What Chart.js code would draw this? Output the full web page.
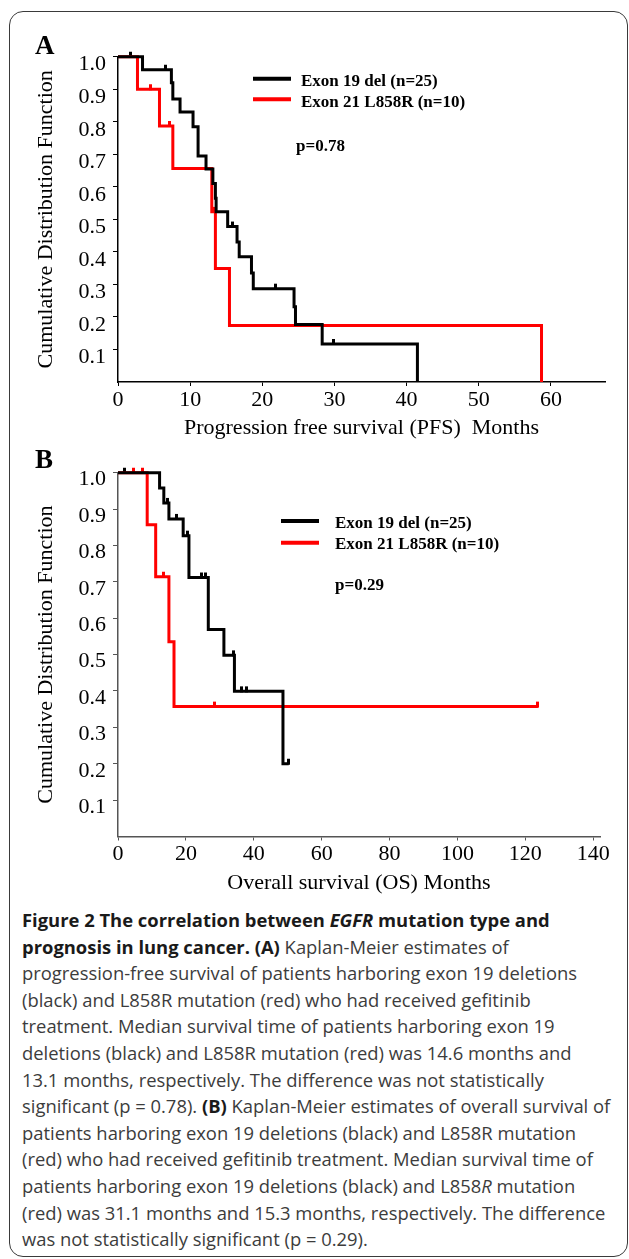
<!DOCTYPE html>
<html>
<head>
<meta charset="utf-8">
<script src="https://cdn.jsdelivr.net/npm/chart.js@4.4.1/dist/chart.umd.min.js"></script>
<style>
html,body{margin:0;padding:0;background:#fff;}
body{width:629px;height:1259px;position:relative;overflow:hidden;}
#frame{position:absolute;left:9px;top:11px;width:619px;height:1246px;border:1.5px solid #3a3a3a;border-radius:14px;box-sizing:border-box;z-index:0;}
canvas{position:absolute;left:0;z-index:1;}
#cA{top:0;}
#cB{top:440px;}
#caption{position:absolute;left:22px;top:907px;font-family:'Open Sans',sans-serif;font-size:18.4px;color:#3c3c3c;z-index:2;}
#caption div{white-space:nowrap;height:26.6px;line-height:26.6px;}
#caption b{color:#1a1a1a;font-weight:700;}
</style>
</head>
<body>
<div id="frame"></div>
<canvas id="cA" width="629" height="445"></canvas>
<canvas id="cB" width="629" height="460"></canvas>
<div id="caption">
<div><b>Figure 2 The correlation between <i>EGFR</i> mutation type and</b></div>
<div><b>prognosis in lung cancer. (A)</b> Kaplan-Meier estimates of</div>
<div>progression-free survival of patients harboring exon 19 deletions</div>
<div>(black) and L858R mutation (red) who had received gefitinib</div>
<div>treatment. Median survival time of patients harboring exon 19</div>
<div>deletions (black) and L858R mutation (red) was 14.6 months and</div>
<div>13.1 months, respectively. The difference was not statistically</div>
<div>significant (p = 0.78). <b>(B)</b> Kaplan-Meier estimates of overall survival of</div>
<div>patients harboring exon 19 deletions (black) and L858R mutation</div>
<div>(red) who had received gefitinib treatment. Median survival time of</div>
<div>patients harboring exon 19 deletions (black) and L858<i>R</i> mutation</div>
<div>(red) was 31.1 months and 15.3 months, respectively. The difference</div>
<div>was not statistically significant (p = 0.29).</div>
</div>
<script>
// ---------- data ----------
const seriesNames = ['Exon 19 del (n=25)', 'Exon 21 L858R (n=10)'];
const survTicksY = [0.1, 0.2, 0.3, 0.4, 0.5, 0.6, 0.7, 0.8, 0.9, 1.0];
const pfsTicksX = [0, 10, 20, 30, 40, 50, 60];
const osTicksX = [0, 20, 40, 60, 80, 100, 120, 140];
const pfsPValue = 'p=0.78';
const osPValue = 'p=0.29';

// Panel A: progression free survival
const pfsDelTime = [0, 3.4, 7.4, 7.6, 8.6, 10.4, 11.1, 12.2, 13.15, 13.5, 13.6, 15.2, 16.5, 16.8, 18.5, 18.75, 24.4, 24.6, 28.3, 41.5];
const pfsDelSurv = [1, 0.96, 0.92, 0.87, 0.83, 0.785, 0.695, 0.655, 0.61, 0.565, 0.523, 0.478, 0.43, 0.385, 0.335, 0.287, 0.231, 0.177, 0.117, 0];
const pfsDelCensTime = [1.8, 6.6, 15.9, 21.85, 29.8];
const pfsDelCensSurv = [1, 0.96, 0.478, 0.287, 0.117];
const pfsL858Time = [0, 2.7, 5.75, 7.6, 13.0, 13.5, 15.45, 58.7];
const pfsL858Surv = [1, 0.9, 0.787, 0.656, 0.523, 0.349, 0.174, 0];
const pfsL858CensTime = [4.5, 7.1, 13.4];
const pfsL858CensSurv = [0.9, 0.787, 0.523];

// Panel B: overall survival
const osDelTime = [0, 12.25, 13.5, 15.0, 19.2, 20.9, 26.6, 31.2, 34.3, 48.6, 50.3];
const osDelSurv = [1, 0.958, 0.917, 0.873, 0.827, 0.712, 0.569, 0.498, 0.399, 0.2, 0.2];
const osDelCensTime = [2.0, 14.6, 17.1, 20.4, 24.5, 25.8, 33.9, 36.3, 38.0, 50.3];
const osDelCensSurv = [1, 0.917, 0.873, 0.827, 0.712, 0.712, 0.498, 0.399, 0.399, 0.2];
const osL858Time = [0, 8.6, 11.1, 15.0, 16.5, 123.7];
const osL858Surv = [1, 0.857, 0.714, 0.535, 0.357, 0.357];
const osL858CensTime = [4.5, 7.2, 13.5, 28.4, 123.7];
const osL858CensSurv = [1, 1, 0.714, 0.357, 0.357];

// ---------- helpers ----------
const toPts = (t, s) => t.map((v, i) => ({x: v, y: s[i]}));
function censorMark(color) {
  const c = document.createElement('canvas');
  c.width = 3; c.height = 12;
  const g = c.getContext('2d');
  g.fillStyle = color;
  g.fillRect(0, 1, 3, 6);
  return c;
}
const SERIF = "'Liberation Serif', 'Times New Roman', serif";

const kmLegend = {
  id: 'kmLegend',
  afterDraw(chart, args, o) {
    const ctx = chart.ctx;
    ctx.save();
    ctx.textBaseline = 'middle';
    ctx.textAlign = 'left';
    ctx.font = 'bold 17px ' + SERIF;
    o.names.forEach((name, i) => {
      const ds = chart.data.datasets[i];
      const y = o.y + i * o.gap;
      ctx.strokeStyle = ds.borderColor;
      ctx.lineWidth = 4;
      ctx.beginPath();
      ctx.moveTo(o.x, y);
      ctx.lineTo(o.x + o.len, y);
      ctx.stroke();
      ctx.fillStyle = '#000';
      ctx.fillText(name, o.textX, y + o.textDy);
    });
    ctx.fillText(o.pText, o.pX, o.pY);
    ctx.font = 'bold 27px ' + SERIF;
    ctx.fillText(o.letter, o.letterX, o.letterY);
    ctx.restore();
  }
};

function kmChart(id, cfg) {
  const curve = (t, s, color) => ({
    data: toPts(t, s), borderColor: color, backgroundColor: color,
    borderWidth: 3, stepped: true, pointRadius: 0, fill: false, clip: false,
    borderJoinStyle: 'miter', borderCapStyle: 'butt'
  });
  const cens = (t, s, color) => ({
    data: toPts(t, s), showLine: false, borderColor: color, backgroundColor: color,
    pointStyle: censorMark(color), pointRadius: 5, clip: false
  });
  return new Chart(document.getElementById(id), {
    type: 'line',
    data: {
      datasets: [
        curve(cfg.a.t, cfg.a.s, '#000000'),
        curve(cfg.b.t, cfg.b.s, '#ff0000'),
        cens(cfg.a.ct, cfg.a.cs, '#000000'),
        cens(cfg.b.ct, cfg.b.cs, '#ff0000')
      ]
    },
    options: {
      responsive: false,
      animation: false,
      events: [],
      layout: {padding: {top: cfg.padTop, right: cfg.padRight, bottom: 0, left: 0}},
      plugins: {
        legend: {display: false},
        tooltip: {enabled: false},
        kmLegend: cfg.legend
      },
      scales: {
        x: {
          type: 'linear', min: 0, max: cfg.xMax,
          afterBuildTicks: s => { s.ticks = cfg.xTicks.map(v => ({value: v})); },
          afterFit: s => { s.height = cfg.xH; },
          border: {display: true, color: cfg.axisColor, width: 1.5},
          grid: {display: true, drawOnChartArea: false, drawTicks: true, tickLength: 4, color: cfg.axisColor, tickWidth: 1},
          ticks: {color: '#000', font: {family: SERIF, size: 22}, padding: 1, maxRotation: 0, autoSkip: false,
                  callback: v => String(v)},
          title: {display: true, text: cfg.xTitle, color: '#000',
                  font: {family: SERIF, size: 22, lineHeight: 1}, padding: {top: 0, bottom: 6}}
        },
        y: {
          type: 'linear', min: 0, max: 1,
          afterBuildTicks: s => { s.ticks = survTicksY.map(v => ({value: v})); },
          afterFit: s => { s.width = 118; },
          border: {display: true, color: cfg.axisColor, width: 1.5},
          grid: {display: true, drawOnChartArea: false, drawTicks: true, tickLength: 5, color: cfg.axisColor, tickWidth: 1},
          ticks: {color: '#000', font: {family: SERIF, size: 22}, padding: 7, autoSkip: false,
                  labelOffset: cfg.yLabelOffset,
                  callback: v => Number(v).toFixed(1)},
          title: {display: true, text: 'Cumulative Distribution Function', color: '#000',
                  font: {family: SERIF, size: 22, lineHeight: 1}, padding: {top: 35, bottom: 0}}
        }
      }
    },
    plugins: [kmLegend]
  });
}

kmChart('cA', {
  a: {t: pfsDelTime, s: pfsDelSurv, ct: pfsDelCensTime, cs: pfsDelCensSurv},
  b: {t: pfsL858Time, s: pfsL858Surv, ct: pfsL858CensTime, cs: pfsL858CensSurv},
  xMax: 67.5, xTicks: pfsTicksX, xH: 63, padTop: 56.7, padRight: 24, yLabelOffset: 8,
  axisColor: '#000',
  xTitle: 'Progression free survival (PFS)  Months',
  legend: {names: seriesNames, x: 253, y: 78.7, gap: 20.6, len: 38, textX: 301, textDy: 3.3,
           pText: pfsPValue, pX: 296, pY: 146.7, letter: 'A', letterX: 35, letterY: 46.7}
});

kmChart('cB', {
  a: {t: osDelTime, s: osDelSurv, ct: osDelCensTime, cs: osDelCensSurv},
  b: {t: osL858Time, s: osL858Surv, ct: osL858CensTime, cs: osL858CensSurv},
  xMax: 142, xTicks: osTicksX, xH: 63.5, padTop: 32.7, padRight: 29, yLabelOffset: 7,
  axisColor: '#555',
  xTitle: 'Overall survival (OS) Months',
  legend: {names: seriesNames, x: 281, y: 81, gap: 21.7, len: 38, textX: 335, textDy: 2.3,
           pText: osPValue, pX: 335, pY: 145.7, letter: 'B', letterX: 35, letterY: 20.7}
});
</script>
</body>
</html>
